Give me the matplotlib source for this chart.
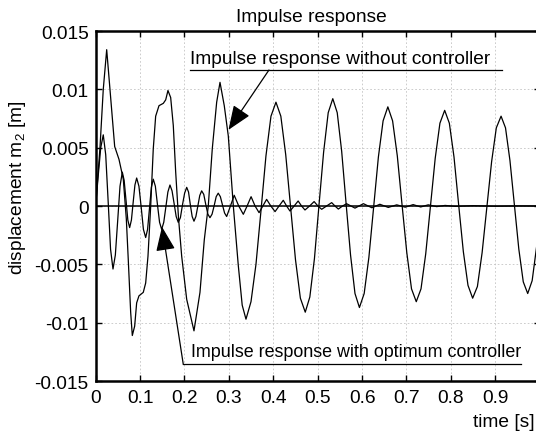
import matplotlib
matplotlib.use('Agg')
import matplotlib.pyplot as plt

plt.rcParams['font.family'] = ['Liberation Sans', 'DejaVu Sans']
plt.rcParams['mathtext.default'] = 'regular'
plt.rcParams['font.size'] = 13.8

# response without controller
t_free = [0.0, 0.0097, 0.0171, 0.0248, 0.0322, 0.0428, 0.0525, 0.0622, 0.069, 0.0734,
          0.0788, 0.0825, 0.0878, 0.0923, 0.0975, 0.1072, 0.1126, 0.1178, 0.1239, 0.1297,
          0.1351, 0.1426, 0.1523, 0.1577, 0.1628, 0.1689, 0.1748, 0.1802, 0.1865, 0.1937,
          0.205, 0.2214, 0.2349, 0.2446, 0.2536, 0.2626, 0.2725, 0.28, 0.2896, 0.2987,
          0.31, 0.3212, 0.33, 0.3385,
          0.3498, 0.361, 0.3723, 0.3835, 0.3948, 0.406,
          0.417, 0.428, 0.439, 0.45, 0.461, 0.472,
          0.4823, 0.4927, 0.503, 0.5133, 0.5237, 0.534,
          0.544, 0.554, 0.564, 0.574, 0.584, 0.594,
          0.6047, 0.6153, 0.626, 0.6367, 0.6473, 0.658,
          0.6687, 0.6793, 0.69, 0.7007, 0.7113, 0.722,
          0.7327, 0.7433, 0.754, 0.7647, 0.7753, 0.786,
          0.7965, 0.807, 0.8175, 0.828, 0.8385, 0.849,
          0.8597, 0.8703, 0.881, 0.8917, 0.9023, 0.913,
          0.923, 0.933, 0.943, 0.953, 0.963, 0.973,
          0.983, 0.993, 1.0]
x_free = [0.0, 0.005, 0.010, 0.0134, 0.010, 0.0051, 0.0040, 0.0023, -0.0011, -0.0046,
          -0.0091, -0.0111, -0.0103, -0.0083, -0.0077, -0.0074, -0.0066, -0.0043, 0.0, 0.0049,
          0.0077, 0.0086, 0.0088, 0.0091, 0.0099, 0.0093, 0.0069, 0.0029, -0.0010, -0.0043,
          -0.0080, -0.0107, -0.0074, -0.0029, 0.0, 0.0049, 0.0089, 0.0106, 0.0086, 0.0060,
          0.0, -0.0051, -0.0085, -0.0097,
          -0.0082, -0.0050, -0.0004, 0.0043, 0.0077, 0.0089,
          0.0077, 0.0044, -0.0001, -0.0046, -0.0079, -0.0091,
          -0.0078, -0.0045, 0.0001, 0.0046, 0.0080, 0.0092,
          0.0080, 0.0047, 0.0002, -0.0042, -0.0075, -0.0087,
          -0.0075, -0.0044, -0.0001, 0.0042, 0.0073, 0.0085,
          0.0073, 0.0043, 0.0001, -0.0040, -0.0071, -0.0082,
          -0.0071, -0.0041, 0.0, 0.0041, 0.0071, 0.0082,
          0.0071, 0.0042, 0.0001, -0.0039, -0.0068, -0.0079,
          -0.0069, -0.0040, -0.0001, 0.0038, 0.0067, 0.0077,
          0.0067, 0.0039, 0.0001, -0.0037, -0.0065, -0.0075,
          -0.0064, -0.0035, -0.0016]

# response with optimum controller
t_opt = [0.0, 0.0057, 0.0114, 0.0171, 0.0226, 0.0281, 0.0335, 0.039,
         0.0443, 0.0495, 0.0548, 0.060, 0.0641, 0.0683, 0.0724, 0.0765,
         0.0805, 0.0844, 0.0884, 0.0923, 0.0974, 0.1025, 0.1075, 0.1126,
         0.1169, 0.1212, 0.1254, 0.1297, 0.1344, 0.1392, 0.1439, 0.1486,
         0.1533, 0.158, 0.1626, 0.1673, 0.172, 0.1767, 0.1813, 0.186,
         0.1908, 0.1955, 0.2003, 0.205, 0.2091, 0.2132, 0.2173, 0.2214,
         0.2257, 0.2301, 0.2344, 0.2387, 0.2434, 0.2481, 0.2527, 0.2574,
         0.2621, 0.2667, 0.2714, 0.276, 0.2808, 0.2855, 0.2903, 0.295,
         0.3035, 0.312, 0.3222, 0.3325, 0.341, 0.35, 0.359, 0.368,
         0.3765, 0.385, 0.3945, 0.404, 0.413, 0.4225, 0.43, 0.4376,
         0.447, 0.456, 0.4637, 0.4714, 0.4817, 0.492, 0.5005, 0.509,
         0.52, 0.5315, 0.539, 0.5465, 0.556, 0.565, 0.584, 0.603,
         0.622, 0.640, 0.659, 0.678, 0.697, 0.715, 0.732, 0.749,
         0.768, 0.787, 0.81, 0.85, 0.9, 0.95, 1.0]
x_opt = [0.0, 0.0026, 0.0050, 0.0061, 0.0044, 0.0004, -0.0037, -0.0054,
         -0.0042, -0.0013, 0.0017, 0.0029, 0.0022, 0.0005, -0.0012, -0.00185,
         -0.0012, 0.0003, 0.0018, 0.0024, 0.0017, -0.0001, -0.0020, -0.0027,
         -0.0020, -0.0002, 0.0016, 0.0023, 0.0017, 0.0001, -0.0014, -0.0020,
         -0.0014, -0.0001, 0.0012, 0.0018, 0.0013, 0.0002, -0.0009, -0.0014,
         -0.0010, 0.0001, 0.0011, 0.0016, 0.0012, 0.0001, -0.0009, -0.0013,
         -0.0009, 0.0, 0.0009, 0.0013, 0.0010, 0.0001, -0.0007, -0.0010,
         -0.0007, 0.0, 0.0008, 0.0011, 0.0008, 0.0001, -0.0006, -0.0009,
         0.0, 0.00092, 0.0, -0.00071, 0.0, 0.0008, 0.0, -0.00057,
         0.0, 0.00057, 0.0, -0.00048, 0.0, 0.00049, 0.0, -0.00043,
         0.0, 0.00043, 0.0, -0.00034, 0.0, 0.00038, 0.0, -0.00028,
         0.0, 0.00029, 0.0, -0.00026, 0.0, 0.0002, -0.00018, 0.0002,
         -0.00015, 0.00015, -0.00012, 0.0001, -0.0001, 0.00012, -0.00008, 0.0001,
         -0.00005, 0.00005, -0.00003, 0.00003, -0.00002, 0.00001, 0.0]

x_ticks = [0, 0.1, 0.2, 0.3, 0.4, 0.5, 0.6, 0.7, 0.8, 0.9, 1.0]
x_labels = ['0', '0.1', '0.2', '0.3', '0.4', '0.5', '0.6', '0.7', '0.8', '0.9', '1']
y_ticks = [-0.015, -0.01, -0.005, 0, 0.005, 0.01, 0.015]
y_labels = ['-0.015', '-0.01', '-0.005', '0', '0.005', '0.01', '0.015']

fig = plt.figure(figsize=(5.36, 4.35), dpi=100)
ax = fig.add_axes([0.1785, 0.1218, 0.8284, 0.8046])

ax.plot(t_free, x_free, color='k', lw=0.9)
ax.plot(t_opt, x_opt, color='k', lw=0.9)
ax.axhline(0, color='k', lw=1.1)

ax.set_xlim(0, 1)
ax.set_ylim(-0.015, 0.015)
ax.set_xticks(x_ticks)
ax.set_xticklabels(x_labels)
ax.set_yticks(y_ticks)
ax.set_yticklabels(y_labels)
ax.tick_params(direction='in', length=4, width=1, top=True, right=True, pad=5)
ax.tick_params(axis='x', pad=6)
ax.grid(True, linestyle=(0, (2, 2.5)), color='#c4c4c4', linewidth=0.6)
for s in ax.spines.values():
    s.set_linewidth(1.8)

# labels with underline and arrow, like the original
ax.text(0.2124, 0.01223, 'Impulse response without controller', ha='left', va='baseline')
ax.plot([0.2124, 0.9144], [0.01166, 0.01166], color='k', lw=0.9)
ax.annotate('', xy=(0.2991, 0.00653), xytext=(0.3903, 0.01166),
            arrowprops=dict(arrowstyle='-|>,head_length=0.75,head_width=0.3',
                            mutation_scale=20, color='k', lw=0.9, shrinkA=0, shrinkB=0))

ax.text(0.2146, -0.01285, 'Impulse response with optimum controller', ha='left', va='baseline',
        fontsize=12.9)
ax.plot([0.1973, 0.958], [-0.01357, -0.01357], color='k', lw=0.9)
ax.annotate('', xy=(0.1493, -0.00178), xytext=(0.1973, -0.01357),
            arrowprops=dict(arrowstyle='-|>,head_length=0.75,head_width=0.3',
                            mutation_scale=20, color='k', lw=0.9, shrinkA=0, shrinkB=0))

fig.text(311 / 536, 1 - 22 / 435, 'Impulse response', ha='center', va='baseline')
fig.text(535 / 536, 1 - 427 / 435, 'time [s]', ha='right', va='baseline')
fig.text(18 / 536, 1 - 188 / 435, 'displacement m$_2$ [m]', rotation=90, ha='center', va='center')

fig.savefig('out.png', dpi=100)
